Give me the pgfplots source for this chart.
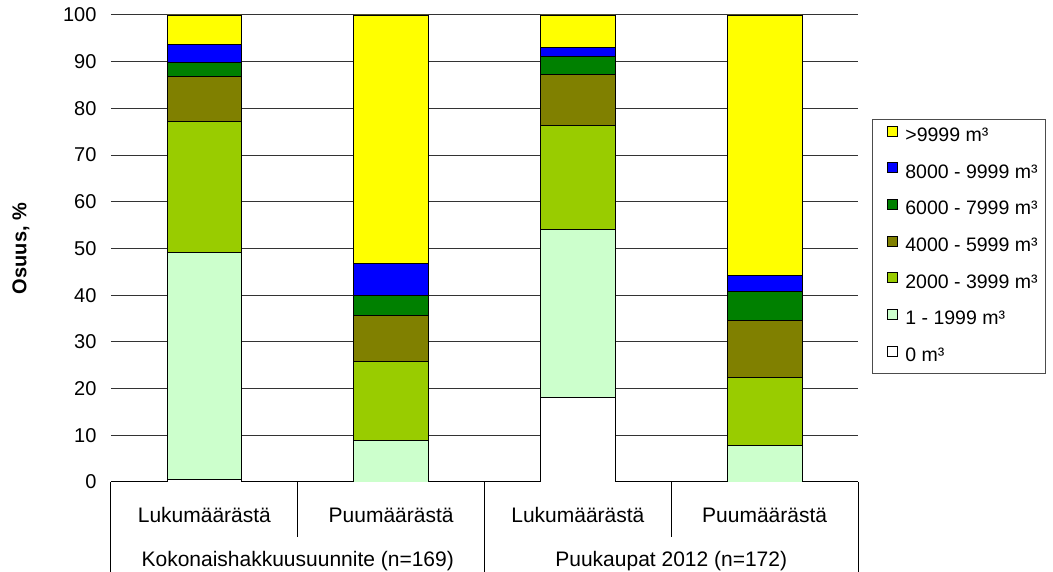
\documentclass[border=0pt]{standalone}
\usepackage{pgfplots}
\usepackage{pgfplotstable}
\pgfplotsset{compat=1.18}
\usepackage{fontspec}
\setmainfont{Liberation Sans}
\definecolor{cA}{HTML}{FFFFFF}
\definecolor{cB}{HTML}{CCFFCC}
\definecolor{cC}{HTML}{99CC00}
\definecolor{cD}{HTML}{808000}
\definecolor{cE}{HTML}{008000}
\definecolor{cF}{HTML}{0000FF}
\definecolor{cG}{HTML}{FFFF00}
\pgfplotstableread{
x v0 v1 v2 v3 v4 v5 v6
0 0.6 48.5 28.0 9.8 3.0 3.7 6.4
1 0.0 8.9 17.0 9.8 4.3 6.8 53.2
2 18.0 36.1 22.3 10.8 4.0 1.9 6.9
3 0.0 7.9 14.4 12.3 6.1 3.6 55.7
}\data
\begin{document}
\begin{tikzpicture}
\useasboundingbox (-111pt,-90pt) rectangle (942pt,482pt);
\begin{axis}[
  at={(0pt,0pt)}, anchor=south west,
  scale only axis, width=747pt, height=467pt,
  ybar stacked, bar width=0.4,
  xmin=-0.5, xmax=3.5, ymin=0, ymax=100,
  enlargelimits=false,
  axis lines*=left,
  y axis line style={draw=none},
  x axis line style={black, line width=1pt},
  xtick=\empty,
  ytick={0,10,...,100},
  major tick length=0pt,
  ymajorgrids, grid style={black!80, line width=1pt},
  yticklabel style={font=\fontsize{20}{24}\selectfont, xshift=-11pt},
  /pgf/number format/assume math mode=true,
  ylabel={Osuus, \%},
  ylabel style={font=\fontsize{20}{24}\selectfont\bfseries, at={(axis description cs:-0.1205,0.5)}, anchor=center},
  every axis plot/.append style={draw=black, line width=0.9pt},
  reverse legend,
  legend style={at={(axis description cs:1.0187,0.7773)}, anchor=north west,
    draw=black!70, line width=0.8pt, inner xsep=6pt, inner ysep=6pt,
    font=\fontsize{19.5}{23}\selectfont,
    nodes={text height=14pt, text depth=4pt, inner sep=2pt},
    row sep=14.7pt},
  legend cell align=left,
  legend image code/.code={\draw[#1,draw=black,line width=0.6pt] (9pt,0.5pt) rectangle (19pt,10.5pt); \path[draw=none,fill=none] (0pt,0pt) -- (25pt,0pt);},
]
\addplot[fill=cA] table[x=x,y=v0]{\data};
\addplot[fill=cB] table[x=x,y=v1]{\data};
\addplot[fill=cC] table[x=x,y=v2]{\data};
\addplot[fill=cD] table[x=x,y=v3]{\data};
\addplot[fill=cE] table[x=x,y=v4]{\data};
\addplot[fill=cF] table[x=x,y=v5]{\data};
\addplot[fill=cG] table[x=x,y=v6]{\data};
\legend{0 m³, 1 - 1999 m³, 2000 - 3999 m³, 4000 - 5999 m³, 6000 - 7999 m³, 8000 - 9999 m³, >9999 m³}
\coordinate (L0) at (axis cs:-0.5,0);
\coordinate (L1) at (axis cs:0.5,0);
\coordinate (L2) at (axis cs:1.5,0);
\coordinate (L3) at (axis cs:2.5,0);
\coordinate (L4) at (axis cs:3.5,0);
\coordinate (C0) at (axis cs:0,0);
\coordinate (C1) at (axis cs:1,0);
\coordinate (C2) at (axis cs:2,0);
\coordinate (C3) at (axis cs:3,0);
\end{axis}
\begin{scope}[line width=1pt, black]
\draw (L0) -- ++(0,-95pt);
\draw (L2) -- ++(0,-95pt);
\draw (L4) -- ++(0,-95pt);
\draw (L1) -- ++(0,-55pt);
\draw (L3) -- ++(0,-55pt);
\end{scope}
\begin{scope}[every node/.style={font=\fontsize{21}{25}\selectfont, anchor=base, inner sep=0pt}]
\node at ([yshift=-41pt]C0) {Lukumäärästä};
\node at ([yshift=-41pt]C1) {Puumäärästä};
\node at ([yshift=-41pt]C2) {Lukumäärästä};
\node at ([yshift=-41pt]C3) {Puumäärästä};
\node at ([yshift=-85pt]L1) {Kokonaishakkuusuunnite (n=169)};
\node at ([yshift=-85pt]L3) {Puukaupat 2012 (n=172)};
\end{scope}
\end{tikzpicture}
\end{document}
